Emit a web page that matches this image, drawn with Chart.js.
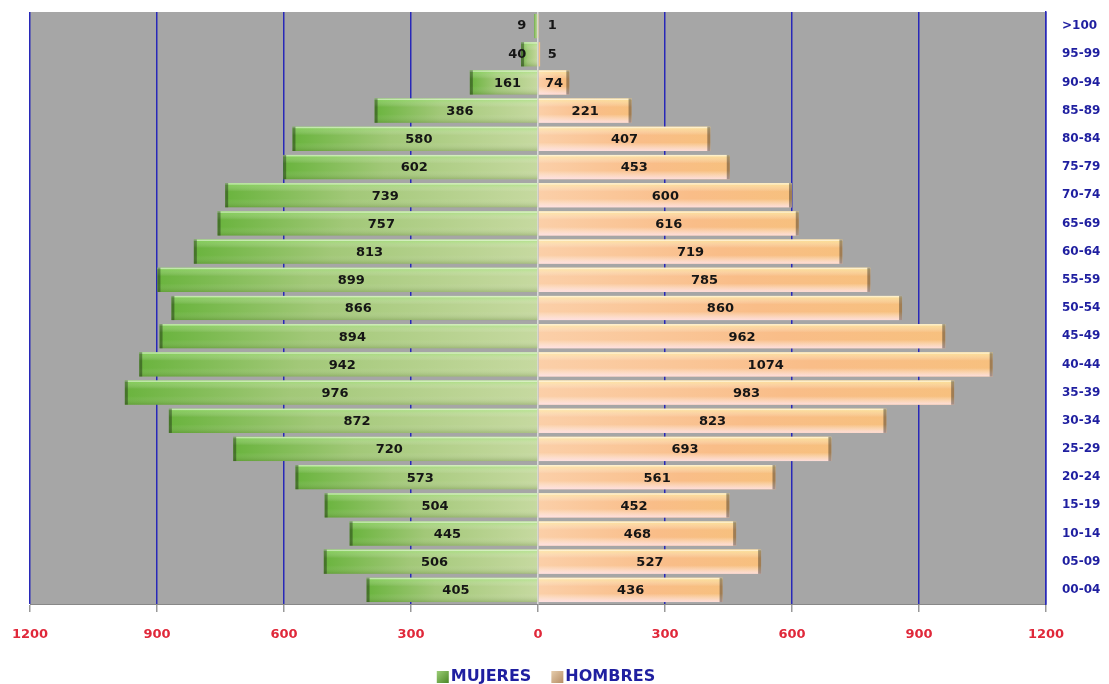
<!DOCTYPE html>
<html>
<head>
<meta charset="utf-8">
<script src="https://cdn.jsdelivr.net/npm/chart.js@4/dist/chart.umd.min.js"></script>
<style>
  html, body { margin: 0; padding: 0; background: #fff; }
</style>
</head>
<body>
<canvas id="myChart" width="1109" height="684"></canvas>
<script>
const edades = ['>100', '95-99', '90-94', '85-89', '80-84', '75-79', '70-74', '65-69', '60-64', '55-59', '50-54',
    '45-49', '40-44', '35-39', '30-34', '25-29', '20-24', '15-19', '10-14', '05-09', '00-04'];
const mujeres = [9, 40, 161, 386, 580, 602, 739, 757, 813, 899, 866, 894, 942, 976, 872, 720, 573, 504, 445, 506, 405];
const hombres = [1, 5, 74, 221, 407, 453, 600, 616, 719, 785, 860, 962, 1074, 983, 823, 693, 561, 452, 468, 527, 436];
const ticksX = [-1200, -900, -600, -300, 0, 300, 600, 900, 1200];

// gradient for each bar, from zero out to the end of the bar
function barGradient(ctx, colors) {
    const chart = ctx.chart;
    if (!chart.chartArea || ctx.type !== 'data') return colors[1];
    const x = chart.scales.x;
    const v = ctx.raw;
    const x0 = x.getPixelForValue(0);
    const x1 = x.getPixelForValue(v);
    if (x0 === x1) return colors[1];
    const g = chart.ctx.createLinearGradient(x0, 0, x1, 0);
    g.addColorStop(0, colors[0]);
    g.addColorStop(0.6, colors[1]);
    g.addColorStop(1, colors[2]);
    return g;
}

const fondo = {
    id: 'fondo',
    beforeDraw(chart) {
        const a = chart.chartArea;
        chart.ctx.save();
        chart.ctx.fillStyle = '#a6a6a6';
        chart.ctx.fillRect(a.left, a.top, a.right - a.left, a.bottom - a.top);
        chart.ctx.restore();
    }
};

// top / bottom light per serie, for the 3D look
const brillo = [
    ['rgba(140,230,90,0.55)', 'rgba(70,100,30,0.25)'],
    ['rgba(255,240,150,0.7)', 'rgba(255,228,240,0.8)']
];

// bevel look + numbers on the bars
const etiquetas = {
    id: 'etiquetas',
    afterDatasetsDraw(chart) {
        const ctx = chart.ctx;
        ctx.save();
        chart.data.datasets.forEach((ds, i) => {
            const meta = chart.getDatasetMeta(i);
            meta.data.forEach((bar, j) => {
                const left = Math.min(bar.x, bar.base);
                const w = Math.abs(bar.x - bar.base);
                const top = bar.y - bar.height / 2;
                const h = bar.height;
                if (w > 6) {
                    const g = ctx.createLinearGradient(0, top, 0, top + h);
                    g.addColorStop(0, brillo[i][0]);
                    g.addColorStop(0.35, 'rgba(255,255,255,0)');
                    g.addColorStop(0.65, 'rgba(255,255,255,0)');
                    g.addColorStop(1, brillo[i][1]);
                    ctx.fillStyle = g;
                    ctx.fillRect(left, top, w, h);
                    ctx.fillStyle = 'rgba(255,255,255,0.5)';
                    ctx.fillRect(left, top, w, 1.5);
                    ctx.fillStyle = 'rgba(0,0,0,0.35)';
                    if (i === 0) ctx.fillRect(left, top, 3, h);
                    else ctx.fillRect(left + w - 3, top, 3, h);
                }
                const val = Math.abs(ds.data[j]);
                ctx.font = 'bold 13px "DejaVu Sans"';
                ctx.fillStyle = '#151515';
                ctx.textBaseline = 'middle';
                const tw = ctx.measureText(String(val)).width;
                if (w < tw + 8) {
                    if (i === 0) {
                        ctx.textAlign = 'right';
                        ctx.fillText(val, bar.base - 11, bar.y);
                    } else {
                        ctx.textAlign = 'left';
                        ctx.fillText(val, bar.base + 9, bar.y);
                    }
                } else {
                    ctx.textAlign = 'center';
                    ctx.fillText(val, (bar.x + bar.base) / 2 + (i === 0 ? 4 : 0), bar.y + 1);
                }
            });
        });
        ctx.restore();
    }
};

// legend drawn below the axis: small square + label, tight like the original
const leyenda = {
    id: 'leyenda',
    afterDraw(chart) {
        const ctx = chart.ctx;
        const items = [
            { text: 'MUJERES', c1: '#9fd07a', c2: '#4f8a2a' },
            { text: 'HOMBRES', c1: '#e8cfae', c2: '#b89068' }
        ];
        ctx.save();
        ctx.font = 'bold 16px "DejaVu Sans"';
        ctx.textBaseline = 'middle';
        ctx.textAlign = 'left';
        const box = 12, gapBox = 2, gapItem = 20;
        let total = 0;
        items.forEach((it, k) => {
            it.w = ctx.measureText(it.text).width;
            total += box + gapBox + it.w + (k ? gapItem : 0);
        });
        const y = 676;
        let x = 546 - total / 2;
        items.forEach((it, k) => {
            if (k) x += gapItem;
            const g = ctx.createLinearGradient(x, y - box / 2, x + box, y + box / 2);
            g.addColorStop(0, it.c1);
            g.addColorStop(1, it.c2);
            ctx.fillStyle = g;
            ctx.fillRect(x, y - box / 2 + 1, box, box);
            x += box + gapBox;
            ctx.fillStyle = '#1f1fa0';
            ctx.fillText(it.text, x, y + 1);
            x += it.w;
        });
        ctx.restore();
    }
};

const data = {
    labels: edades,
    datasets: [{
        label: 'MUJERES',
        data: mujeres.map(v => -v),
        backgroundColor: (c) => barGradient(c, ['#c6d9a0', '#a2c878', '#6ab43e']),
        borderWidth: 0,
        barPercentage: 0.86,
        categoryPercentage: 1
    }, {
        label: 'HOMBRES',
        data: hombres,
        backgroundColor: (c) => barGradient(c, ['#fbcfa8', '#f9bd88', '#f7c07e']),
        borderWidth: 0,
        barPercentage: 0.86,
        categoryPercentage: 1
    }]
};

new Chart('myChart', {
    type: 'bar',
    data: data,
    plugins: [fondo, etiquetas, leyenda],
    options: {
        indexAxis: 'y',
        responsive: false,
        animation: false,
        layout: { padding: { left: 30, top: 12, right: 0, bottom: 34 } },
        scales: {
            x: {
                stacked: true,
                min: -1200,
                max: 1200,
                afterBuildTicks: (s) => { s.ticks = ticksX.map(v => ({ value: v })); },
                afterFit: (s) => { s.height = 46; s.paddingLeft = 0; s.paddingRight = 0; },
                ticks: {
                    callback: (v) => Math.abs(v),
                    color: '#e0283a',
                    font: { family: 'DejaVu Sans', weight: 'bold', size: 13 },
                    padding: 15,
                    maxRotation: 0
                },
                grid: {
                    color: (c) => c.tick && c.tick.value === 0 ? '#dcdcdc' : '#2828b8',
                    lineWidth: 1.5,
                    tickLength: 8,
                    tickColor: '#999'
                },
                border: { color: '#888', width: 1 }
            },
            y: {
                stacked: true,
                position: 'right',
                afterFit: (s) => { s.width = 63; s.paddingTop = 0; s.paddingBottom = 0; },
                ticks: {
                    color: '#1f1fa0',
                    font: { family: 'DejaVu Sans', weight: 'bold', size: 12 },
                    crossAlign: 'near',
                    padding: 16
                },
                grid: { display: false, drawTicks: false },
                border: { color: '#2828b8', width: 1.5 }
            }
        },
        plugins: {
            legend: { display: false },
            tooltip: { enabled: false }
        }
    }
});
</script>
</body>
</html>
